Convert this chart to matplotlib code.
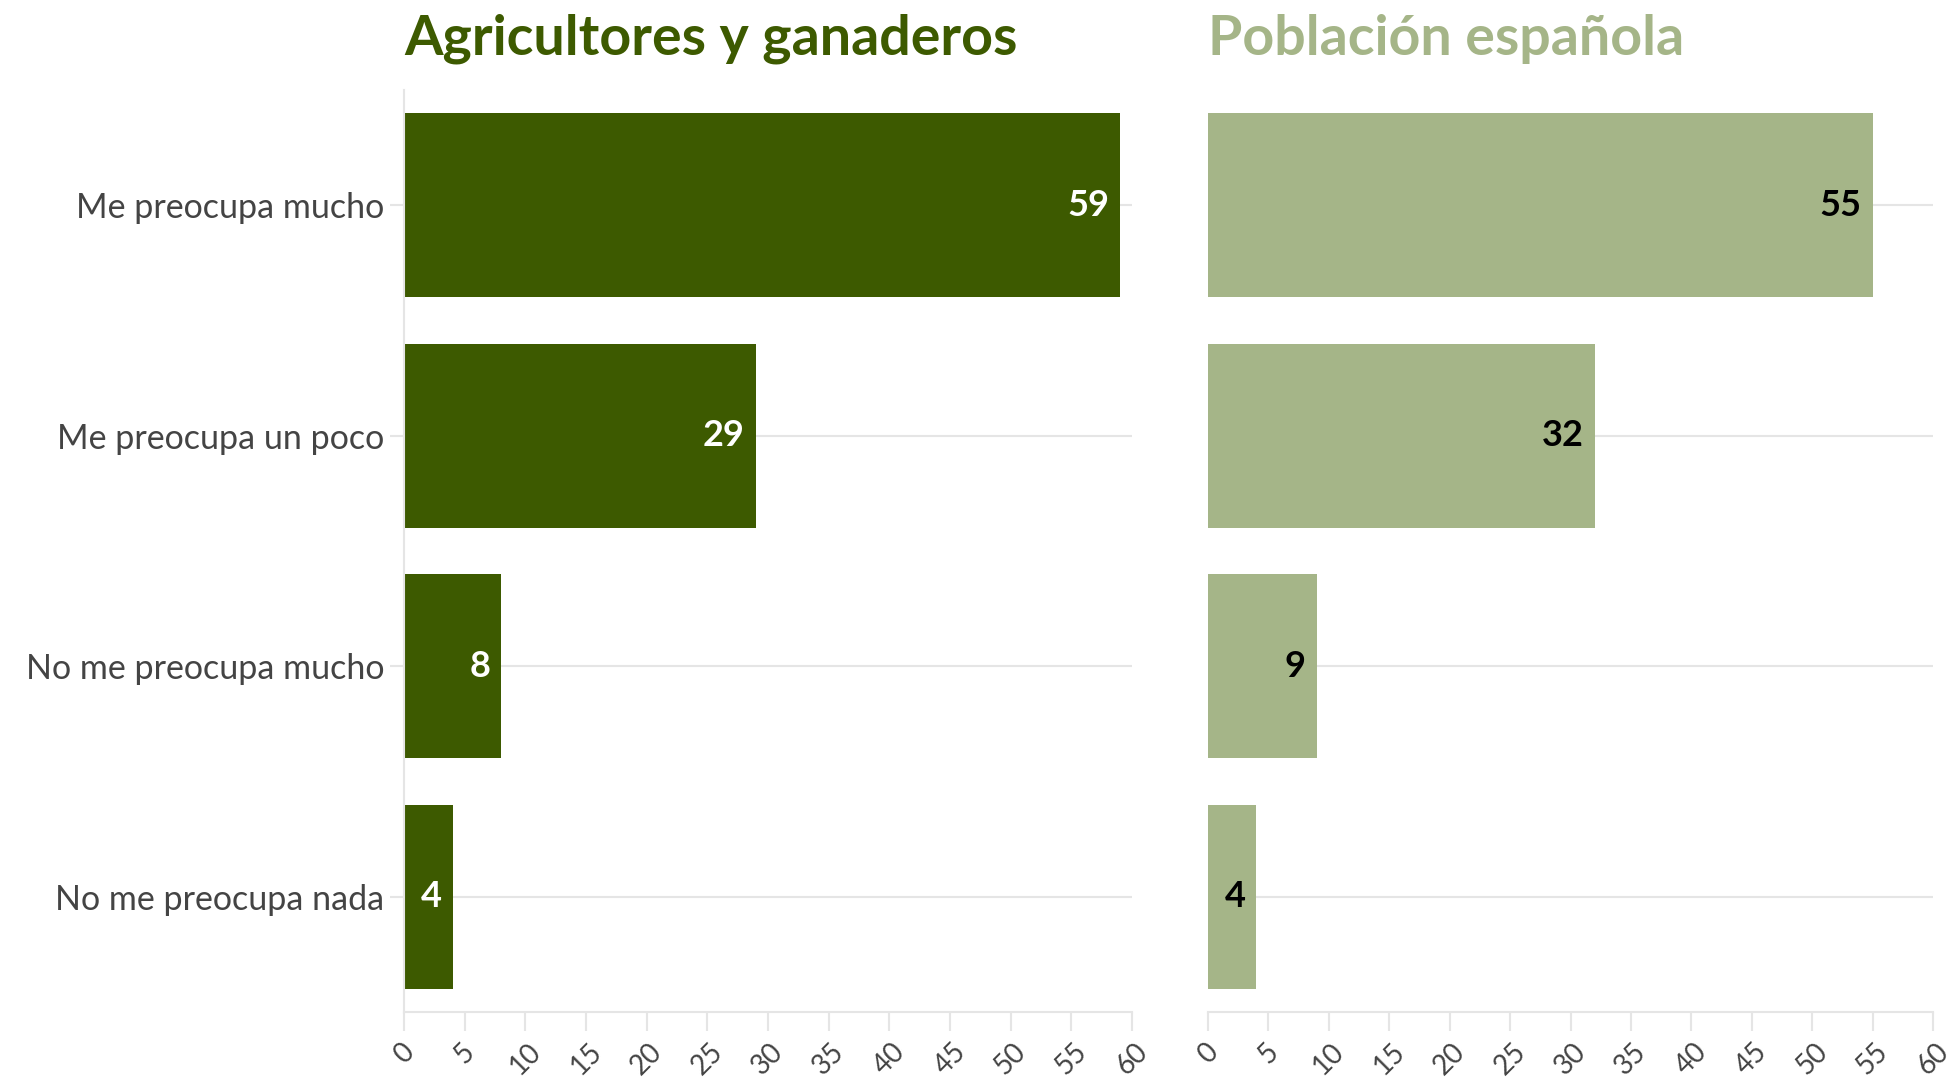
import matplotlib.pyplot as plt
import numpy as np

categories = ['Me preocupa mucho', 'Me preocupa un poco', 'No me preocupa mucho', 'No me preocupa nada']
agricultores = [59, 29, 8, 4]
poblacion = [55, 32, 9, 4]
titles = ['Agricultores y ganaderos', 'Población española']

dark = '#3d5a00'
light = '#a5b588'
grid = '#e5e5e5'

plt.rcParams['font.family'] = ['Lato', 'DejaVu Sans']

fig = plt.figure(figsize=(19.51, 10.83), dpi=100)
ax1 = fig.add_axes([404/1951, 1 - 1012/1083, 728/1951, 922/1083])
ax2 = fig.add_axes([1208/1951, 1 - 1012/1083, 725/1951, 922/1083])

y = np.arange(len(categories))

panels = [(ax1, agricultores, dark, 'white', titles[0]),
          (ax2, poblacion, light, 'black', titles[1])]

for ax, vals, col, txtcol, title in panels:
    # gridlines at category centres
    for yi in y:
        ax.axhline(yi, color=grid, lw=1.5, zorder=0)
    ax.barh(y, vals, height=0.8, color=col, zorder=2)
    for yi, v in zip(y, vals):
        ax.text(v - 0.9, yi, str(v), ha='right', va='center',
                color=txtcol, fontsize=26, fontweight='bold', zorder=3)
    ax.set_xlim(0, 60)
    ax.set_ylim(3.5, -0.5)
    ax.set_xticks(np.arange(0, 61, 5))
    ax.set_xticklabels([str(t) for t in range(0, 61, 5)], rotation=45,
                       ha='center', fontsize=20, color='#444444')
    ax.tick_params(axis='x', length=14, width=1.5, color=grid, pad=5)
    for s in ['top', 'right']:
        ax.spines[s].set_visible(False)
    ax.spines['bottom'].set_color(grid)
    ax.spines['bottom'].set_linewidth(1.5)
    ax.spines['left'].set_color(grid)
    ax.spines['left'].set_linewidth(1.5)
    ax.text(0, 1.038, title, transform=ax.transAxes, ha='left', va='baseline',
            fontsize=40, fontweight='bold', color=col)

ax1.set_yticks(y)
ax1.set_yticklabels(categories, fontsize=24.5, color='#444444')
ax1.tick_params(axis='y', length=10, width=1.5, color=grid, pad=4)

ax2.set_yticks(y)
ax2.set_yticklabels([])
ax2.tick_params(axis='y', length=0)
ax2.spines['left'].set_visible(False)

fig.savefig('out.png', dpi=100)
